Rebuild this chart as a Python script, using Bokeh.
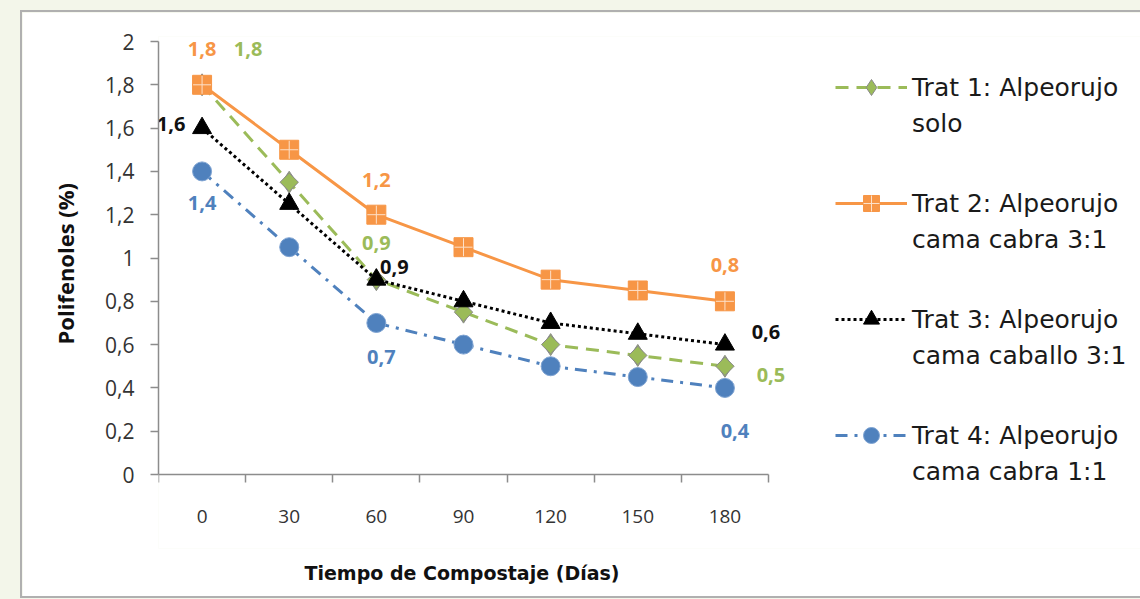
import numpy as np
from bokeh.plotting import figure
from bokeh.models import Range1d, FixedTicker, CustomJSTickFormatter, Legend, LegendItem, Title
from bokeh.layouts import column
from bokeh.embed import file_html
from bokeh.resources import INLINE
from bokeh.core.properties import value

# ---------------- data ----------------
days = ["0", "30", "60", "90", "120", "150", "180"]
trat1 = [1.8, 1.35, 0.9, 0.75, 0.6, 0.55, 0.5]
trat2 = [1.8, 1.5, 1.2, 1.05, 0.9, 0.85, 0.8]
trat3 = [1.6, 1.25, 0.9, 0.8, 0.7, 0.65, 0.6]
trat4 = [1.4, 1.05, 0.7, 0.6, 0.5, 0.45, 0.4]
series_names = [
    "Trat 1: Alpeorujo\nsolo",
    "Trat 2: Alpeorujo\ncama cabra 3:1",
    "Trat 3: Alpeorujo\ncama caballo 3:1",
    "Trat 4: Alpeorujo\ncama cabra 1:1",
]
y_ticks = [0, 0.2, 0.4, 0.6, 0.8, 1.0, 1.2, 1.4, 1.6, 1.8, 2.0]
y_max = 2.0
labeled_points = [0, 2, 6]
x_title = "Tiempo de Compostaje (Días)"
y_title = "Polifenoles (%)"

# ---------------- styles / layout ----------------
GREEN = "#9BBB59"
ORANGE = "#F79646"
BLACK = "#000000"
BLUE = "#4F81BD"
AXIS = "#8c8c8c"
label_offsets = {  # (dx, dy) screen px for each labelled point
    0: [(46, -36), (0, -37), (46, 9)],
    1: [(0, -36), (0, -35), (0, -36)],
    2: [(-31, -4), (18, -13), (41, -13)],
    3: [(0, 32), (5, 34), (10, 43)],
}
FIG_X, FIG_Y = 22, 12           # figure position on page
AX_LEFT, AX_RIGHT = 158, 768    # axis extent on page (px)
AX_TOP, AX_BOTTOM = 41, 474
FRAME_TOP, FRAME_BOTTOM = 36, 548
FIG_W, FIG_H = 1140 - FIG_X, 596 - FIG_Y

n = len(days)
xs = np.arange(n) + 0.5
ppx = (AX_RIGHT - AX_LEFT) / n          # px per category
ppy = (AX_BOTTOM - AX_TOP) / y_max      # px per unit
x_end = (1140 - AX_LEFT) / ppx
y_end = (AX_BOTTOM - FRAME_TOP) / ppy
y_start = -(FRAME_BOTTOM - AX_BOTTOM) / ppy

p = figure(width=FIG_W, height=FIG_H, x_range=Range1d(0, x_end), y_range=Range1d(y_start, y_end),
           output_backend="svg", toolbar_location=None,
           min_border_left=AX_LEFT - FIG_X, min_border_right=0,
           min_border_top=FRAME_TOP - FIG_Y, min_border_bottom=FIG_Y + FIG_H - FRAME_BOTTOM,
           background_fill_color="white", border_fill_color="white", outline_line_color=None,
           margin=(FIG_Y, 0, 0, FIG_X))
p.title.visible = False
p.grid.visible = False

# y axis
yax = p.yaxis[0]
yax.bounds = (0, y_max)
yax.ticker = FixedTicker(ticks=y_ticks, minor_ticks=[])
yax.formatter = CustomJSTickFormatter(code="return tick.toFixed(1).replace('.', ',').replace(/,0$/, '');")
yax.axis_line_color = AXIS
yax.axis_line_width = 1.5
yax.major_tick_line_color = AXIS
yax.major_tick_line_width = 1.5
yax.major_tick_out = 8
yax.major_tick_in = 0
yax.minor_tick_line_color = None
yax.major_label_standoff = 16
yax.major_label_text_font = "Open Sans"
yax.major_label_text_font_size = "21px"
yax.major_label_text_color = "#333333"

yt = Title(text=y_title, align="left", offset=(FRAME_BOTTOM - 262) - 82,
           text_font="Open Sans", text_font_style="bold", text_font_size="22px",
           text_color="#111111", standoff=46)
p.add_layout(yt, "left")

# x axis (category-like), drawn at y = 0
xax = p.xaxis[0]
xax.fixed_location = 0
xax.bounds = (0, n)
xax.ticker = FixedTicker(ticks=list(xs), minor_ticks=list(range(n + 1)))
xax.formatter = CustomJSTickFormatter(args=dict(labels=days), code="return labels[Math.floor(tick)];")
xax.axis_line_color = AXIS
xax.axis_line_width = 1.5
xax.major_tick_line_color = None
xax.major_tick_out = 0
xax.major_tick_in = 0
xax.minor_tick_line_color = AXIS
xax.minor_tick_line_width = 1.5
xax.minor_tick_out = 8
xax.minor_tick_in = 0
xax.major_label_standoff = 27
xax.major_label_text_font = "Open Sans"
xax.major_label_text_font_size = "19px"
xax.major_label_text_color = "#333333"

xt = Title(text=x_title, align="left", offset=(AX_LEFT + AX_RIGHT) / 2 - AX_LEFT - 159,
           text_font="DejaVu Sans", text_font_style="bold", text_font_size="19px",
           text_color="#111111", standoff=22)
p.add_layout(xt, "below")

items_a, items_b = [], []

# Trat 1
l1 = p.line(xs, trat1, line_color=GREEN, line_width=3, line_dash="13 8")
m1d = p.scatter(xs, trat1, marker="diamond", size=22, fill_color=GREEN, line_color="#8a8a8a", line_width=1)
m1 = p.scatter(xs, trat1, marker="square", angle=np.pi / 4, size=13, fill_color=GREEN,
               line_color="#8a8a8a", line_width=1)
# Trat 2
l2 = p.line(xs, trat2, line_color=ORANGE, line_width=3)
m2 = p.scatter(xs, trat2, marker="square", size=19, fill_color=ORANGE, line_color=ORANGE, line_width=1)
m2b = p.scatter(xs, trat2, marker="cross", size=18, line_color="#fde0c8", line_width=1)
# Trat 3
l3 = p.line(xs, trat3, line_color=BLACK, line_width=3, line_dash="3 3")
m3 = p.scatter(xs, trat3, marker="triangle", size=19, fill_color=BLACK, line_color=BLACK)
# Trat 4
l4 = p.line(xs, trat4, line_color=BLUE, line_width=3, line_dash="12 7 3 7")
m4 = p.scatter(xs, trat4, marker="circle", size=19, fill_color=BLUE, line_color="#7ea3d2", line_width=1)

legend_renderers = [[l1, m1d], [l2, m2, m2b], [l3, m3], [l4, m4]]

# data labels
for si, (vals, col) in enumerate(zip([trat1, trat2, trat3, trat4], [GREEN, ORANGE, BLACK, BLUE])):
    lx = [xs[i] for i in labeled_points]
    ly = [vals[i] for i in labeled_points]
    txt = [f"{vals[i]:.1f}".replace(".", ",") for i in labeled_points]
    dx = [o[0] for o in label_offsets[si]]
    dy = [o[1] for o in label_offsets[si]]
    tr = p.text(lx, ly, text=txt, x_offset=dx, y_offset=dy, text_align="center", text_baseline="middle",
                text_font=value("Open Sans"), text_font_style="bold", text_font_size="20px",
                text_color=col if col != BLACK else "#111111")
    first, second = series_names[si].split("\n")
    items_a.append(LegendItem(label=first, renderers=legend_renderers[si]))
    items_b.append(LegendItem(label=second, renderers=[tr]))

LEG_X = 835
GLYPH_H, PITCH = 40, 116
leg_kw = dict(orientation="vertical", glyph_width=72, glyph_height=GLYPH_H, label_standoff=5,
              spacing=PITCH - GLYPH_H, padding=0, margin=0, border_line_color=None,
              background_fill_alpha=0, label_text_font="DejaVu Sans", label_text_font_style="normal",
              label_text_font_size="25px", label_text_color="#1a1a1a")
first_line_c, second_line_c = 87, 123
h_leg = 4 * GLYPH_H + 3 * (PITCH - GLYPH_H)
leg_a = Legend(items=items_a, location=(LEG_X - AX_LEFT, FRAME_BOTTOM - (first_line_c - GLYPH_H / 2 + h_leg)), **leg_kw)
leg_b = Legend(items=items_b, location=(LEG_X - AX_LEFT, FRAME_BOTTOM - (second_line_c - GLYPH_H / 2 + h_leg)), **leg_kw)
p.add_layout(leg_a, "center")
p.add_layout(leg_b, "center")

p.styles = {"box-shadow": "0 0 0 2px #b0b0b0"}

layout = column(p, width=1140, height=599, styles={"background-color": "#f3f6ea"})

open("out.html", "w").write(file_html(layout, INLINE))
